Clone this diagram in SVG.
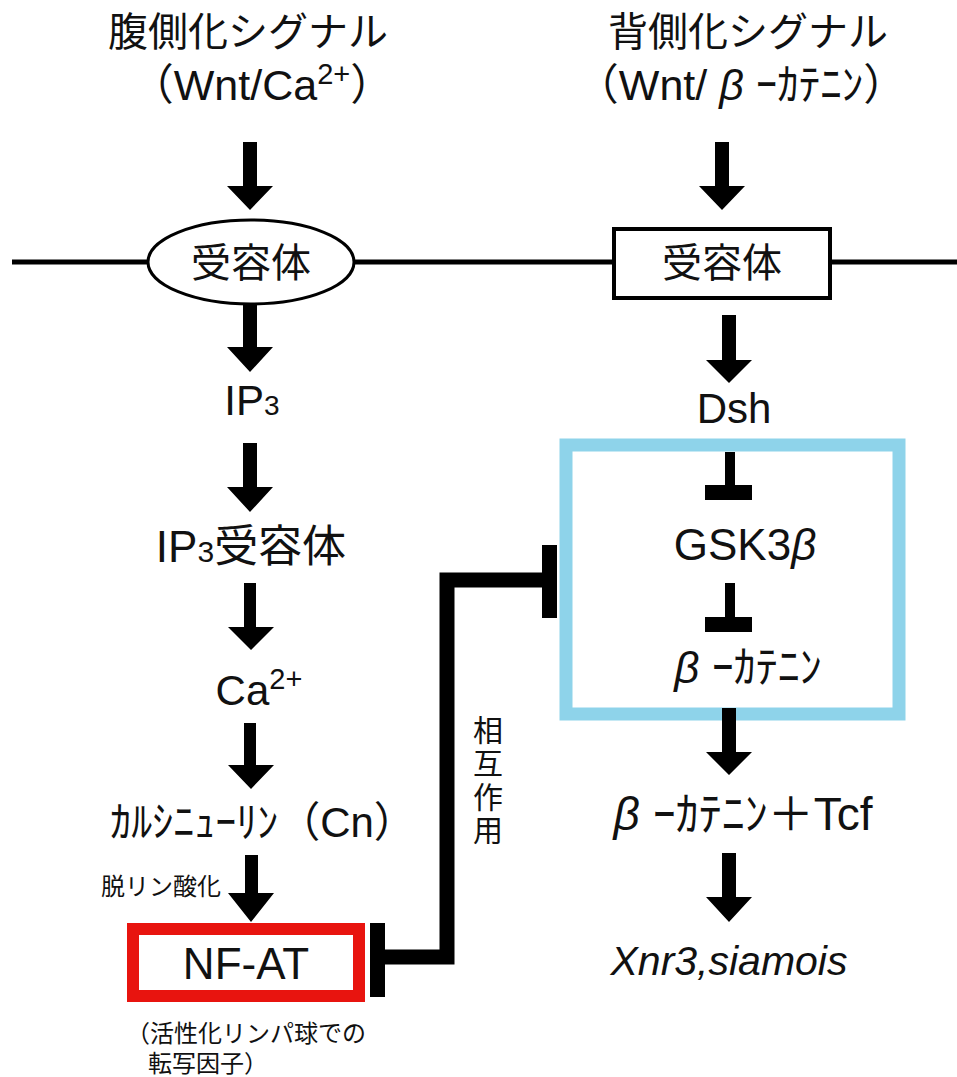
<svg xmlns="http://www.w3.org/2000/svg" width="957" height="1077" viewBox="0 0 957 1077">
<style>
text{font-family:"Liberation Sans","Noto Sans CJK JP",sans-serif;fill:#111;text-anchor:middle}
.t{font-size:40px}
.m{font-size:42px}
.s{font-size:24px}
.v{font-size:30px}
.arr{fill:#000}
.line{fill:none;stroke:#000}
</style>
<rect width="957" height="1077" fill="#fff"/>
<g id="membrane"><line class="line" x1="12" y1="262" x2="957" y2="262" stroke-width="5"/></g>
<g id="title-left">
<text class="t" x="248" y="46">腹側化シグナル</text>
<text class="m" x="262" y="100" style="font-size:43px">（Wnt/Ca<tspan font-size="29" dy="-16">2+</tspan><tspan dy="16">）</tspan></text>
</g>
<g id="title-right">
<text class="t" x="748" y="46">背側化シグナル</text>
<text class="m" x="741" y="100" style="font-size:43px">（Wnt/ <tspan font-style="italic">β</tspan> ｰｶﾃﾆﾝ）</text>
</g>
<g id="receptor-left">
<ellipse cx="251" cy="262" rx="103" ry="42" fill="#fff" stroke="#000" stroke-width="3"/>
<text class="t" x="251" y="277">受容体</text>
</g>
<g id="receptor-right">
<rect x="614" y="229" width="216" height="69" fill="#fff" stroke="#000" stroke-width="4"/>
<text class="t" x="722" y="277">受容体</text>
</g>
<g id="ip3"><text class="m" x="252" y="415">IP<tspan font-size="28">3</tspan></text></g>
<g id="ip3r"><text class="m" x="251" y="562" style="font-size:44px">IP<tspan font-size="30">3</tspan>受容体</text></g>
<g id="ca"><text class="m" x="259" y="705">Ca<tspan font-size="29" dy="-16">2+</tspan></text></g>
<g id="cn"><text class="m" x="263" y="837">ｶﾙｼﾆｭｰﾘﾝ（Cn）</text></g>
<g id="dephos"><text class="s" x="161" y="895">脱リン酸化</text></g>
<g id="nfat">
<rect x="133" y="929" width="226" height="67" fill="#fff" stroke="#e8140f" stroke-width="12"/>
<text style="font-size:44px" x="246" y="979">NF-AT</text>
<text class="s" x="126" y="1042" style="text-anchor:start">（活性化リンパ球での</text>
<text class="s" x="148" y="1072" style="text-anchor:start">転写因子）</text>
</g>
<g id="interaction-label">
<text class="v" x="488" y="741">相</text>
<text class="v" x="488" y="774">互</text>
<text class="v" x="488" y="808">作</text>
<text class="v" x="488" y="841">用</text>
</g>
<g id="dsh"><text class="m" x="734" y="423">Dsh</text></g>
<g id="complex">
<rect x="566" y="445" width="333" height="269" fill="none" stroke="#8ed3ea" stroke-width="13"/>
<text class="m" x="745" y="560" style="font-size:44px">GSK3<tspan font-style="italic">β</tspan></text>
<text class="m" x="748" y="683" style="font-size:44px"><tspan font-style="italic">β</tspan> ｰｶﾃﾆﾝ</text>
</g>
<g id="bcat-tcf"><text class="m" x="743" y="830" style="font-size:46px"><tspan font-style="italic">β</tspan> ｰｶﾃﾆﾝ＋Tcf</text></g>
<g id="targets"><text style="font-size:41px;font-style:italic" x="729" y="975">Xnr3,siamois</text></g>
<g id="connectors">
<polygon class="arr" points="243,142 257,142 257,186 273,186 250,210 227,186 243,186"/>
<polygon class="arr" points="243,303 257,303 257,347 273,347 250,372 227,347 243,347"/>
<polygon class="arr" points="243,443 257,443 257,487 273,487 250,512 227,487 243,487"/>
<polygon class="arr" points="244,583 256,583 256,627 274,627 251,650 228,627 244,627"/>
<polygon class="arr" points="244,723 256,723 256,765 274,765 251,789 228,765 244,765"/>
<polygon class="arr" points="245,855 258,855 258,893 274,893 251,922 228,893 245,893"/>
<polygon class="arr" points="715,142 729,142 729,186 745,186 722,210 699,186 715,186"/>
<polygon class="arr" points="722,315 736,315 736,360 752,360 729,383 706,360 722,360"/>
<polygon class="arr" points="722,708 736,708 736,752 752,752 729,775 706,752 722,752"/>
<polygon class="arr" points="722,853 736,853 736,897 752,897 729,922 706,897 722,897"/>
<rect x="725" y="452" width="10" height="40"/>
<rect x="705" y="485" width="47" height="15"/>
<rect x="725" y="583" width="10" height="40"/>
<rect x="705" y="617" width="47" height="15"/>
<polyline class="line" points="384,957 447,957 447,580 543,580" stroke-width="15"/>
<rect x="370" y="923" width="15" height="74"/>
<rect x="542" y="545" width="15" height="73"/>
</g>
</svg>
